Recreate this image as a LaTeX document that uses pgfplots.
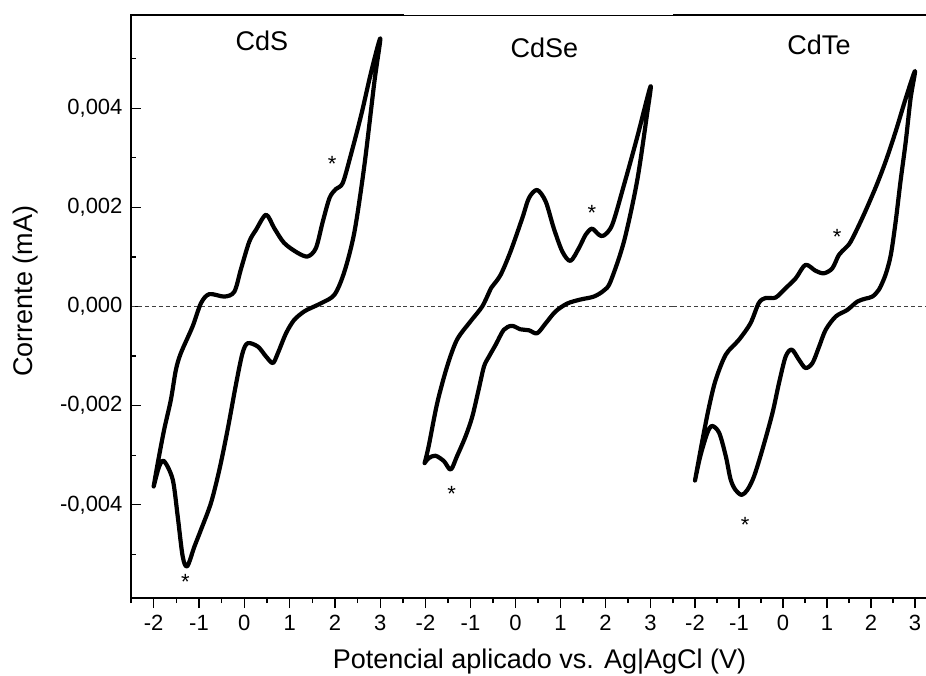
\documentclass[border=0pt]{standalone}
\usepackage{fontspec}
\setmainfont{Liberation Sans}
\usepackage{pgfplots}
\pgfplotsset{compat=1.18}
\tikzset{astmark/.style={font=\fontsize{22}{26}\selectfont, anchor=base, yshift=-12.9pt, inner sep=0pt}}
\begin{document}
\begin{tikzpicture}
\useasboundingbox (-131pt,-77pt) rectangle (795pt,598pt);
\pgfplotsset{
 cvbase/.style={
  scale only axis, height=583pt,
  xmin=-2.5, ymin=-0.00588, ymax=0.00588,
  axis line style={draw=none},
  xtick={-2,-1,0,1,2,3}, xticklabels={-2,-1,0,1,2,3},
  minor xtick={-2.5,-1.5,-0.5,0.5,1.5,2.5,3.5},
  xtick pos=bottom, xtick align=outside,
  major tick length=10pt, minor tick length=5pt,
  every tick/.style={black, line width=1.2pt},
  tick label style={font=\fontsize{22}{26}\selectfont},
  xticklabel style={yshift=-4pt},
  scaled y ticks=false,
 },
 cvline/.style={black, line width=4.2pt, smooth, tension=0.5, line join=round, line cap=round},
 zeroline/.style={black!75, line width=0.8pt, dash pattern=on 4pt off 3pt},
}
% ---------------- CdS ----------------
\begin{axis}[cvbase, at={(0pt,0pt)}, anchor=south west, width=272pt, xmax=3.5,
  ytick={-0.004,-0.002,0,0.002,0.004},
  yticklabels={{-0,004},{-0,002},{0,000},{0,002},{0,004}},
  minor ytick={-0.005,-0.003,-0.001,0.001,0.003,0.005},
  ytick pos=left, ytick align=inside,
  yticklabel style={xshift=-5pt},
  after end axis/.code={
    \draw[line width=1.3pt, line cap=rect] (rel axis cs:1,1) -- (rel axis cs:0,1) -- (rel axis cs:0,0) -- (rel axis cs:1,0);
  }]
\addplot[zeroline] coordinates {(-2.5,0) (3.5,0)};
\addplot[cvline] coordinates {
(-2.00,-0.00363) (-1.91,-0.00316) (-1.77,-0.00249) (-1.62,-0.00188) (-1.51,-0.00128) (-1.40,-0.00094)
(-1.14,-0.00040) (-0.955,0.00007) (-0.77,0.00025) (-0.44,0.00020) (-0.22,0.00030)
(-0.07,0.00077) (0.11,0.00131) (0.26,0.00155) (0.48,0.00185) (0.66,0.00158)
(0.88,0.00128) (1.18,0.00108) (1.40,0.00101) (1.58,0.00118) (1.73,0.00171)
(1.88,0.00219) (2.02,0.00237) (2.17,0.00249) (2.35,0.00306) (2.58,0.00387)
(2.80,0.00474) (3.00,0.00541)
(2.87,0.00454) (2.65,0.00286) (2.43,0.00151) (2.21,0.00071) (1.99,0.00024)
(1.70,0.00007) (1.47,-0.00003) (1.32,-0.00010) (1.10,-0.00027) (0.92,-0.00054)
(0.74,-0.00094) (0.63,-0.00114) (0.48,-0.00101) (0.30,-0.00081) (0.075,-0.00074)
(-0.04,-0.00094) (-0.18,-0.00155) (-0.37,-0.00249) (-0.55,-0.00329) (-0.735,-0.00396)
(-0.955,-0.00450) (-1.10,-0.00484) (-1.26,-0.00524) (-1.36,-0.00504) (-1.47,-0.00423)
(-1.58,-0.00349) (-1.77,-0.00312) (-1.88,-0.00323) (-2.00,-0.00363)
};
\node[astmark] at (axis cs:1.94,0.00298) {*};
\node[astmark] at (axis cs:-1.30,-0.00544) {*};
\end{axis}
% ---------------- CdSe ----------------
\begin{axis}[cvbase, at={(272pt,0pt)}, anchor=south west, width=270pt, xmax=3.5,
  ytick=\empty,
  after end axis/.code={
    \draw[line width=1.3pt] (rel axis cs:0,0) -- (rel axis cs:1,0);
    \draw[line width=1.3pt] ([yshift=-0.7pt]rel axis cs:0,1) -- ([yshift=-0.7pt]rel axis cs:1,1);
  }]
\addplot[zeroline] coordinates {(-2.5,0) (3.5,0)};
\addplot[cvline] coordinates {
(-2.02,-0.00316) (-1.93,-0.00282) (-1.74,-0.00195) (-1.52,-0.00121) (-1.30,-0.00067)
(-1.00,-0.00030) (-0.74,0.00000) (-0.56,0.00034) (-0.52,0.00040) (-0.33,0.00064)
(-0.11,0.00111) (0.15,0.00178) (0.30,0.00219) (0.48,0.00235) (0.67,0.00212)
(0.85,0.00158) (1.04,0.00111) (1.22,0.00092) (1.41,0.00118) (1.56,0.00145)
(1.70,0.00157) (1.85,0.00145) (1.96,0.00143) (2.15,0.00165) (2.41,0.00245)
(2.70,0.00340) (3.00,0.00444)
(2.92,0.00386) (2.70,0.00252) (2.41,0.00131) (2.11,0.00050) (1.96,0.00032)
(1.74,0.00020) (1.44,0.00014) (1.15,0.00006) (0.89,-0.00010) (0.67,-0.00034)
(0.48,-0.00054) (0.30,-0.00048) (0.11,-0.00046) (-0.08,-0.00039) (-0.26,-0.00047)
(-0.44,-0.00077) (-0.59,-0.00101) (-0.70,-0.00121) (-0.82,-0.00168) (-0.96,-0.00222)
(-1.11,-0.00262) (-1.30,-0.00302) (-1.44,-0.00329) (-1.59,-0.00312) (-1.78,-0.00301)
(-1.93,-0.00306) (-2.02,-0.00316)
};
\node[astmark] at (axis cs:1.70,0.00200) {*};
\node[astmark] at (axis cs:-1.42,-0.00368) {*};
\end{axis}
% ---------------- CdTe ----------------
\begin{axis}[cvbase, at={(542pt,0pt)}, anchor=south west, width=253pt, xmax=3.25,
  ytick=\empty,
  after end axis/.code={
    \draw[line width=1.3pt] (rel axis cs:0,0) -- (rel axis cs:1,0);
    \draw[line width=1.3pt] (rel axis cs:0,1) -- (rel axis cs:1,1);
  }]
\addplot[zeroline] coordinates {(-2.5,0) (3.25,0)};
\addplot[cvline] coordinates {
(-2.00,-0.00351) (-1.83,-0.00269) (-1.68,-0.00202) (-1.53,-0.00148) (-1.30,-0.00097)
(-1.00,-0.00067) (-0.74,-0.00034) (-0.55,0.00007) (-0.40,0.00017) (-0.17,0.00018)
(0.06,0.00037) (0.29,0.00057) (0.51,0.00084) (0.74,0.00072) (0.93,0.00067)
(1.12,0.00077) (1.27,0.00104) (1.42,0.00118) (1.54,0.00131) (1.80,0.00178)
(2.10,0.00239) (2.33,0.00292) (2.56,0.00353) (2.79,0.00420) (3.00,0.00475)
(2.90,0.00420) (2.79,0.00333) (2.67,0.00252) (2.56,0.00171) (2.45,0.00104)
(2.33,0.00064) (2.18,0.00034) (2.03,0.00020) (1.88,0.00016) (1.69,0.00010)
(1.46,-0.00007) (1.20,-0.00020) (0.97,-0.00047) (0.82,-0.00081) (0.67,-0.00114)
(0.51,-0.00124) (0.36,-0.00107) (0.20,-0.00087) (0.06,-0.00101) (-0.09,-0.00154)
(-0.24,-0.00215) (-0.47,-0.00289) (-0.66,-0.00343) (-0.81,-0.00370) (-0.94,-0.00380)
(-1.08,-0.00370) (-1.19,-0.00349) (-1.30,-0.00302) (-1.45,-0.00255) (-1.61,-0.00241)
(-1.72,-0.00255) (-1.88,-0.00302) (-2.00,-0.00351)
};
\node[astmark] at (axis cs:1.23,0.00151) {*};
\node[astmark] at (axis cs:-0.86,-0.00430) {*};
\end{axis}
% ---------------- labels ----------------
\node[anchor=base, font=\fontsize{27}{32}\selectfont] at (131pt,547.3pt) {CdS};
\node[anchor=base, font=\fontsize{27}{32}\selectfont] at (413.3pt,540.7pt) {CdSe};
\node[anchor=base, font=\fontsize{27}{32}\selectfont] at (688pt,543pt) {CdTe};
\node[anchor=base, rotate=90, font=\fontsize{27}{32}\selectfont] at (-98pt,307pt) {Corrente (mA)};
\node[anchor=base, font=\fontsize{27}{32}\selectfont] at (408.5pt,-70.5pt) {Potencial aplicado vs. Ag|AgCl (V)};
\end{tikzpicture}
\end{document}
